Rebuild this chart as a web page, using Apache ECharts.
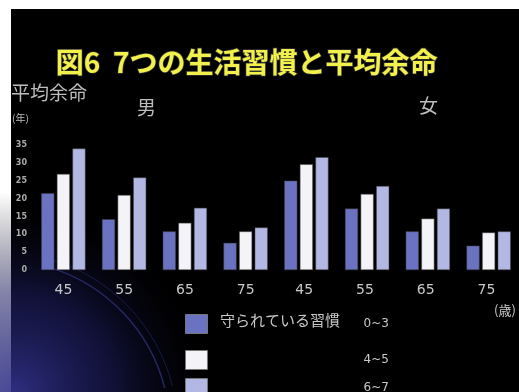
<!DOCTYPE html>
<html><head><meta charset="utf-8">
<script src="https://cdn.jsdelivr.net/npm/echarts@6/dist/echarts.min.js"></script>
<style>html,body{margin:0;padding:0;background:#fff}#c{width:519px;height:392px}</style>
</head><body><div id="c"></div>
<script>
const ages = ['45','55','65','75'];
const male03 = [21.5, 14.2, 10.8, 7.6];
const male45 = [26.9, 21.0, 13.2, 10.8];
const male67 = [34.0, 25.9, 17.4, 11.9];
const female03 = [25.0, 17.2, 10.8, 6.8];
const female45 = [29.6, 21.3, 14.4, 10.5];
const female67 = [31.6, 23.5, 17.2, 10.8];
const seriesNames = ['0~3', '4~5', '6~7'];
const yTicks = [0, 5, 10, 15, 20, 25, 30, 35];

const categories = ages.concat(ages).map((a, i) => a + (i < 4 ? '' : ' '));
const values = [male03.concat(female03), male45.concat(female45), male67.concat(female67)];
const colors = ['#6b72c2', '#f3f3f8', '#b3b7e4'];

const chart = echarts.init(document.getElementById('c'), null, {renderer: 'canvas'});
const legends = seriesNames.map((n, i) => ({
  data: [n], left: 185, top: [314, 350, 378][i], orient: 'vertical', padding: 0,
  itemWidth: 22, itemHeight: 19, icon: 'rect', selectedMode: false,
  itemStyle: {borderColor: '#777', borderWidth: 1},
  textStyle: {color: '#c8c8c8', fontSize: 12, padding: [0, 0, 0, 151], fontFamily: 'DejaVu Sans'}
}));
chart.setOption({
  backgroundColor: '#fff',
  animation: false,
  graphic: [
    {type: 'rect', z: -10, shape: {x: 11, y: 9, width: 508, height: 383}, style: {fill: '#000'}},
    {type: 'circle', z: -9, shape: {cx: 15, cy: 392, r: 200}, silent: true,
      style: {fill: {type: 'radial', x: 0.5, y: 0.5, r: 0.5, colorStops: [
        {offset: 0, color: 'rgba(50,50,140,0.9)'}, {offset: 0.5, color: 'rgba(30,30,100,0.55)'}, {offset: 1, color: 'rgba(0,0,0,0)'}]}}},
    {type: 'arc', z: -8, shape: {cx: 0, cy: 430, r: 170, startAngle: -Math.PI/2 + 0.3, endAngle: -0.25}, style: {stroke: 'rgba(60,60,150,0.6)', lineWidth: 1.5, fill: null}},
    {type: 'arc', z: -8, shape: {cx: 0, cy: 430, r: 178, startAngle: -Math.PI/2 + 0.3, endAngle: -0.25}, style: {stroke: 'rgba(50,50,130,0.45)', lineWidth: 1, fill: null}},
    {type: 'text', left: 55, top: 48, style: {text: '図6  7つの生活習慣と平均余命', fill: '#f2f04a', stroke: '#333', lineWidth: 1.5, font: 'bold 28px "Noto Sans CJK JP"'}},
    {type: 'text', left: 11, top: 83, style: {text: '平均余命', fill: '#bdbdbd', font: '19px "Noto Sans CJK JP"'}},
    {type: 'text', left: 12, top: 113, style: {text: '(年)', fill: '#bdbdbd', font: '10px "Noto Sans CJK JP"'}},
    {type: 'text', left: 137, top: 98, style: {text: '男', fill: '#bdbdbd', font: '19px "Noto Sans CJK JP"'}},
    {type: 'text', left: 419, top: 96, style: {text: '女', fill: '#bdbdbd', font: '19px "Noto Sans CJK JP"'}},
    {type: 'text', left: 220, top: 313, style: {text: '守られている習慣', fill: '#c8c8c8', font: '15px "Noto Sans CJK JP"'}},
    {type: 'text', left: 494, top: 304, style: {text: '(歳)', fill: '#c8c8c8', font: '13px "Noto Sans CJK JP"'}}
  ],
  legend: legends,
  grid: {left: 33, right: -10, top: 145, bottom: 122, containLabel: false},
  xAxis: {
    type: 'category', data: categories,
    axisLine: {show: false}, axisTick: {show: false},
    axisLabel: {color: '#c8c8c8', fontSize: 14, margin: 13, fontFamily: 'DejaVu Sans'}
  },
  yAxis: {
    type: 'value', min: 0, max: 35, interval: 5,
    splitLine: {show: false}, axisLine: {show: false}, axisTick: {show: false},
    axisLabel: {color: '#aaa', fontSize: 8, margin: 6, fontWeight: 'bold', fontFamily: 'DejaVu Sans'}
  },
  series: seriesNames.map((n, i) => ({
    name: n, type: 'bar', data: values[i], barWidth: 13, barGap: '20%',
    itemStyle: {color: colors[i], borderColor: '#444', borderWidth: 0.5}
  }))
});
</script></body></html>
